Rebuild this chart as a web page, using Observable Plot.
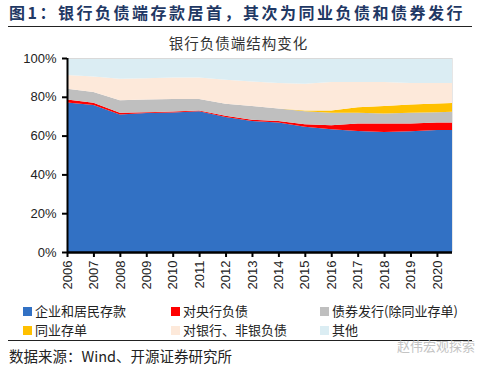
<!DOCTYPE html>
<html>
<head>
<meta charset="utf-8">
<script src="https://cdn.jsdelivr.net/npm/d3@7"></script>
<script src="https://cdn.jsdelivr.net/npm/@observablehq/plot@0.6"></script>
<style>
  html, body { margin: 0; padding: 0; background: #fff; }
  body { width: 477px; height: 368px; position: relative; overflow: hidden; font-family: "Noto Sans CJK SC", "Liberation Sans", sans-serif; }
  .abs { position: absolute; white-space: nowrap; }
  #title { left: 9px; top: 0px; font-size: 16px; font-weight: bold; color: #1F3864; letter-spacing: 2.5px; line-height: 24px; }
  .hr { position: absolute; left: 8px; width: 464px; height: 1px; background: #222; }
  #ctitle { left: 0; width: 477px; text-align: center; top: 34px; font-size: 14.5px; color: #333; line-height: 18px; letter-spacing: 1px; }
  #chart { position: absolute; left: 0; top: 50px; }
  .leg { position: absolute; font-size: 13px; color: #222; line-height: 16px; white-space: nowrap; }
  .sw { display: inline-block; width: 9px; height: 9px; margin-right: 3px; vertical-align: 0px; }
  #src { left: 9px; top: 347px; font-size: 14.5px; color: #222; line-height: 18px; }
  #wm { left: 397px; top: 338px; font-size: 13px; color: #c4c4c4; line-height: 16px; }
</style>
</head>
<body>
<div id="title" class="abs">图1：银行负债端存款居首，其次为同业负债和债券发行</div>
<div class="hr" style="top:26px"></div>
<div id="ctitle" class="abs">银行负债端结构变化</div>
<div id="chart"></div>
<div id="legend"></div>
<div class="hr" style="top:340px"></div>
<div id="src" class="abs">数据来源：Wind、开源证券研究所</div>
<div id="wm" class="abs">赵伟宏观探索</div>
<script>
// Years (2021 = right edge of plotted area, no label shown)
const years = [2006, 2007, 2008, 2009, 2010, 2011, 2012, 2013, 2014, 2015, 2016, 2017, 2018, 2019, 2020, 2021];
const tickYears = [2006, 2007, 2008, 2009, 2010, 2011, 2012, 2013, 2014, 2015, 2016, 2017, 2018, 2019, 2020];
const seriesNames = ["企业和居民存款", "对央行负债", "债券发行(除同业存单)", "同业存单", "对银行、非银负债", "其他"];
const seriesColors = ["#3271C4", "#FF0000", "#BFBFBF", "#FFC000", "#FDE9DA", "#DBEDF3"];
// shares, %
const deposits  = [77.0, 75.8, 70.9, 71.6, 71.9, 72.6, 69.6, 67.5, 66.7, 64.6, 63.3, 62.4, 61.9, 62.2, 62.9, 62.9];
const centralBk = [1.6, 1.1, 0.9, 0.5, 0.5, 0.4, 0.6, 0.7, 0.8, 1.2, 2.0, 3.9, 4.4, 4.1, 3.8, 4.0];
const bonds     = [5.6, 5.6, 6.4, 6.5, 6.5, 5.9, 6.2, 7.0, 6.5, 6.8, 6.5, 5.5, 5.1, 5.5, 5.4, 5.6];
const ncds      = [0, 0, 0, 0, 0, 0, 0, 0, 0, 0.3, 1.2, 2.8, 3.8, 4.2, 4.4, 4.5];
const interbank = [7.1, 8.0, 11.1, 11.0, 11.1, 11.1, 12.4, 12.7, 13.1, 13.8, 14.6, 13.0, 12.4, 11.1, 10.6, 10.1];
const others    = [8.7, 9.5, 10.7, 10.4, 10.0, 10.0, 11.2, 12.1, 12.9, 13.3, 12.4, 12.4, 12.4, 12.9, 12.9, 12.9];
const yTicks = [0, 20, 40, 60, 80, 100];

const seriesValues = [deposits, centralBk, bonds, ncds, interbank, others];
const data = [];
seriesNames.forEach((name, i) => {
  years.forEach((yr, j) => data.push({year: yr, series: name, value: seriesValues[i][j]}));
});

const chart = Plot.plot({
  width: 477,
  height: 252,
  marginTop: 8,
  marginBottom: 50,
  marginLeft: 67,
  marginRight: 25,
  style: {fontFamily: "Liberation Sans, Arial, sans-serif", fontSize: "13px", color: "#222", background: "transparent"},
  x: {domain: [2006, 2020.57], axis: null, label: null},
  y: {domain: [0, 100], axis: null, label: null},
  color: {domain: seriesNames, range: seriesColors},
  marks: [
    Plot.areaY(data, {x: "year", y: "value", fill: "series", order: seriesNames, clip: true}),
    Plot.ruleY([100], {stroke: "#d9d9d9", strokeWidth: 1}),
    Plot.ruleX([2020.57], {stroke: "#e6e6e6", strokeWidth: 1}),
    Plot.axisY(yTicks, {tickSize: 5, tickPadding: 6, tickFormat: d => d + "%", label: null, stroke: "#000", strokeWidth: 2, fill: "#222", fontSize: 13}),
    Plot.axisX(tickYears, {tickSize: 5, tickPadding: 3, tickRotate: -90, tickFormat: d => String(d), label: null, stroke: "#000", strokeWidth: 2, fill: "#222", fontSize: 13}),
    Plot.ruleX([2006], {stroke: "#000", strokeWidth: 2}),
    Plot.ruleY([0], {stroke: "#000", strokeWidth: 2.5})
  ]
});
document.getElementById("chart").appendChild(chart);

// legend
const legPos = [[23, 303], [171, 303], [320, 303], [23, 322], [171, 322], [320, 322]];
const legend = document.getElementById("legend");
seriesNames.forEach((name, i) => {
  const el = document.createElement("div");
  el.className = "leg";
  el.style.left = legPos[i][0] + "px";
  el.style.top = legPos[i][1] + "px";
  el.innerHTML = `<span class="sw" style="background:${seriesColors[i]}"></span>${name}`;
  legend.appendChild(el);
});
</script>
</body>
</html>
